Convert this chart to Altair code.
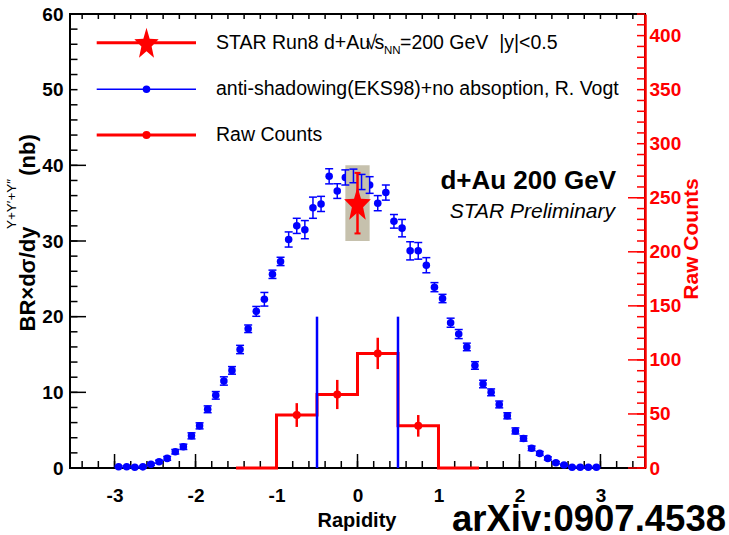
import math
import altair as alt
import pandas as pd

FONT = "Liberation Sans"
W, H = 575, 454

# ---- data -------------------------------------------------------------
# Model: anti-shadowing (EKS98) + no absorption, R. Vogt
model_rap = [-2.95, -2.85, -2.75, -2.65, -2.55, -2.45, -2.35, -2.25, -2.15, -2.05,
             -1.95, -1.85, -1.75, -1.65, -1.55, -1.45, -1.35, -1.25, -1.15, -1.05,
             -0.95, -0.85, -0.75, -0.65, -0.55, -0.45, -0.35, -0.25, -0.15, -0.05,
             0.05, 0.15, 0.25, 0.35, 0.45, 0.55, 0.65, 0.75, 0.85, 0.95,
             1.05, 1.15, 1.25, 1.35, 1.45, 1.55, 1.65, 1.75, 1.85, 1.95,
             2.05, 2.15, 2.25, 2.35, 2.45, 2.55, 2.65, 2.75, 2.85, 2.95]
model_val = [0.17, 0.17, 0.10, 0.15, 0.50, 0.83, 1.27, 2.15, 2.80, 4.25,
             5.57, 7.76, 9.60, 11.5, 12.9, 15.66, 18.4, 20.7, 22.3, 25.6,
             27.3, 30.2, 32.0, 31.5, 34.4, 34.9, 38.55, 36.6, 38.4, 38.6,
             37.8, 37.4, 35.0, 36.4, 32.6, 31.7, 28.7, 28.7, 26.8, 23.9,
             22.4, 19.2, 17.7, 16.0, 13.55, 11.1, 10.0, 8.4, 6.9, 4.9,
             3.9, 2.6, 1.93, 1.27, 0.70, 0.40, 0.10, 0.10, 0.10, 0.10]
model_err = [0.10, 0.10, 0.10, 0.10, 0.15, 0.20, 0.25, 0.30, 0.35, 0.40,
             0.40, 0.45, 0.50, 0.55, 0.50, 0.55, 0.50, 0.65, 0.90, 0.55,
             0.55, 1.00, 1.00, 1.20, 1.40, 1.00, 1.00, 0.97, 1.00, 0.90,
             1.00, 1.10, 1.00, 1.00, 0.90, 1.15, 1.20, 1.10, 1.00, 0.60,
             0.55, 0.60, 0.60, 0.50, 0.50, 0.50, 0.45, 0.45, 0.40, 0.40,
             0.35, 0.30, 0.25, 0.20, 0.15, 0.10, 0.10, 0.10, 0.10, 0.10]

# Raw counts histogram (right axis)
hist_edges = [-1.5, -1.0, -0.5, 0.0, 0.5, 1.0, 1.5]
hist_counts = [0, 49, 68, 106, 39, 0]
raw_rap = [-0.75, -0.25, 0.25, 0.75]
raw_counts = [49, 68, 106, 39]
raw_err = [11, 13.5, 14.5, 10]

# STAR Run8 d+Au measurement, |y|<0.5
star_rap = [0.0]
star_val = [35.0]
star_stat = [4.0]
star_sys = [5.0]
star_sys_halfwidth = 0.15

# Acceptance boundaries drawn as vertical lines
acc_rap = [-0.5, 0.5]
acc_top = [20.0, 20.0]

# Axis ranges and labels
X_RANGE = [-3.55, 3.55]
Y_RANGE = [0, 60]
C_RANGE = [0, 420]
x_major = [-3, -2, -1, 0, 1, 2, 3]
x_minor = [round(-3.4 + 0.2 * k, 1) for k in range(35)]
y_labels = [0, 10, 20, 30, 40, 50, 60]
y_long = [0, 10, 20, 30, 40]
y_short = list(range(0, 61, 2))
c_labels = list(range(0, 401, 50))
c_long = [0, 50, 100, 150, 200, 250]
c_short = list(range(0, 421, 10))

# ---- tables -------------------------------------------------------------
model = pd.DataFrame({"rap": model_rap, "v": model_val})
model["lo"] = model["v"] - pd.Series(model_err)
model["hi"] = model["v"] + pd.Series(model_err)

hist = pd.DataFrame({"edge": hist_edges, "count": hist_counts + [hist_counts[-1]]})
raw = pd.DataFrame({"rap": raw_rap, "c": raw_counts})
raw["lo"] = raw["c"] - pd.Series(raw_err)
raw["hi"] = raw["c"] + pd.Series(raw_err)

star = pd.DataFrame({"rap": star_rap, "v": star_val})
star["lo"] = star["v"] - pd.Series(star_stat)
star["hi"] = star["v"] + pd.Series(star_stat)
star["slo"] = star["v"] - pd.Series(star_sys)
star["shi"] = star["v"] + pd.Series(star_sys)
star["x1"] = star["rap"] - star_sys_halfwidth
star["x2"] = star["rap"] + star_sys_halfwidth

acc = pd.DataFrame({"rap": acc_rap, "top": acc_top, "zero": [0.0, 0.0]})
one = pd.DataFrame({"k": [0]})

# ---- scales & axes ----------------------------------------------------
xs = alt.Scale(domain=X_RANGE, nice=False, zero=False)
ys = alt.Scale(domain=Y_RANGE, nice=False, zero=False)
cs = alt.Scale(domain=C_RANGE, nice=False, zero=False)

BLUE = "#0000ff"
RED = "#ff0000"


def label_axis(orient, values, pad, color="black", **kw):
    return alt.Axis(orient=orient, values=values, ticks=False, labelPadding=pad,
                    labelFont=FONT, labelFontSize=19, labelFontWeight="bold",
                    labelColor=color, labelFlush=False, labelOverlap=False,
                    grid=False, title=None, **kw)


AX_LAB = label_axis("bottom", x_major, 18, domain=False,
                    labelExpr="datum.value < 0 ? '-' + format(-datum.value, 'd') : format(datum.value, 'd')")
AY_LAB = label_axis("left", y_labels, 7, domain=False)
AC_LAB = label_axis("right", c_labels, 4, color="red", domain=True,
                    domainColor="red", domainWidth=2.5)

# Frame ticks pointing into the plot: each tick is a one-segment line symbol
# anchored on the frame edge; a path from 0 to 1 spans sqrt(size)/2 pixels.
UP, DOWN, RIGHT, LEFT = "M0,0L0,-1", "M0,0L0,1", "M0,0L1,0", "M0,0L-1,0"


def tick_size(px):
    return 4 * px * px


def x_edge_ticks(values, edge, path, px, color="black"):
    df = pd.DataFrame({"pos": [float(v) for v in values]})
    df["edge"] = float(edge)
    return alt.Chart(df).mark_point(shape=path, filled=False, color=color, strokeWidth=1.5,
                                    size=tick_size(px), opacity=1).encode(
        x=alt.X("pos:Q", scale=xs, axis=None),
        y=alt.Y("edge:Q", scale=ys, axis=None))


def y_edge_ticks(values, scale, edge, path, px, color="black"):
    df = pd.DataFrame({"pos": [float(v) for v in values]})
    df["edge"] = float(edge)
    return alt.Chart(df).mark_point(shape=path, filled=False, color=color, strokeWidth=1.5,
                                    size=tick_size(px), opacity=1).encode(
        y=alt.Y("pos:Q", scale=scale, axis=None),
        x=alt.X("edge:Q", scale=xs, axis=None))


frame_ticks = [
    x_edge_ticks(x_major, Y_RANGE[0], UP, 14), x_edge_ticks(x_minor, Y_RANGE[0], UP, 7),
    x_edge_ticks(x_minor, Y_RANGE[1], DOWN, 5),
    y_edge_ticks(y_long, ys, X_RANGE[0], RIGHT, 16), y_edge_ticks(y_short, ys, X_RANGE[0], RIGHT, 7.5),
    y_edge_ticks(c_long, cs, X_RANGE[1], LEFT, 17, RED), y_edge_ticks(c_short, cs, X_RANGE[1], LEFT, 8, RED),
]


def star_path(sx=0.77, inner=0.42):
    pts = []
    for k in range(10):
        a = math.radians(-90 + 36 * k)
        r = 1.0 if k % 2 == 0 else inner
        pts.append((r * math.cos(a) * sx, r * math.sin(a) + 0.095))
    return "M" + " L".join(f"{x:.3f},{y:.3f}" for x, y in pts) + " Z"


STAR = star_path()

# ---- layers -----------------------------------------------------------
model_dots = alt.Chart(model).mark_circle(color=BLUE, size=57, opacity=1).encode(
    x=alt.X("rap:Q", scale=xs, axis=None),
    y=alt.Y("v:Q", scale=ys, axis=None))

sys_box = alt.Chart(star).mark_rect(color="#c6c1ad").encode(
    x=alt.X("x1:Q", scale=xs, axis=None), x2="x2:Q",
    y=alt.Y("slo:Q", scale=ys, axis=None), y2="shi:Q")

model_err_bars = alt.Chart(model).mark_rule(color=BLUE, strokeWidth=1.5).encode(
    x=alt.X("rap:Q", scale=xs, axis=AX_LAB),
    y=alt.Y("lo:Q", scale=ys, axis=AY_LAB), y2="hi:Q")

model_cap_hi = alt.Chart(model).mark_rule(color=BLUE, strokeWidth=1.5, xOffset=-4, x2Offset=4).encode(
    x=alt.X("rap:Q", scale=xs, axis=None), x2="rap:Q",
    y=alt.Y("hi:Q", scale=ys, axis=None))

model_cap_lo = alt.Chart(model).mark_rule(color=BLUE, strokeWidth=1.5, xOffset=-4, x2Offset=4).encode(
    x=alt.X("rap:Q", scale=xs, axis=None), x2="rap:Q",
    y=alt.Y("lo:Q", scale=ys, axis=None))

hist_line = alt.Chart(hist).mark_line(color=RED, strokeWidth=3, interpolate="step-after").encode(
    x=alt.X("edge:Q", scale=xs, axis=None),
    y=alt.Y("count:Q", scale=cs, axis=AC_LAB))

acc_lines = alt.Chart(acc).mark_rule(color=BLUE, strokeWidth=2.5).encode(
    x=alt.X("rap:Q", scale=xs, axis=None),
    y=alt.Y("zero:Q", scale=ys, axis=None), y2="top:Q")

raw_err_bars = alt.Chart(raw).mark_rule(color=RED, strokeWidth=2.5).encode(
    x=alt.X("rap:Q", scale=xs, axis=None),
    y=alt.Y("lo:Q", scale=cs, axis=None), y2="hi:Q")

raw_dots = alt.Chart(raw).mark_circle(color=RED, size=64, opacity=1).encode(
    x=alt.X("rap:Q", scale=xs, axis=None),
    y=alt.Y("c:Q", scale=cs, axis=None))

star_err = alt.Chart(star).mark_rule(color=RED, strokeWidth=2.5).encode(
    x=alt.X("rap:Q", scale=xs, axis=None),
    y=alt.Y("lo:Q", scale=ys, axis=None), y2="hi:Q")

star_cap_hi = alt.Chart(star).mark_rule(color=RED, strokeWidth=2, xOffset=-3, x2Offset=3).encode(
    x=alt.X("rap:Q", scale=xs, axis=None), x2="rap:Q",
    y=alt.Y("hi:Q", scale=ys, axis=None))

star_cap_lo = alt.Chart(star).mark_rule(color=RED, strokeWidth=2, xOffset=-3, x2Offset=3).encode(
    x=alt.X("rap:Q", scale=xs, axis=None), x2="rap:Q",
    y=alt.Y("lo:Q", scale=ys, axis=None))

star_pt = alt.Chart(star).mark_point(shape=STAR, filled=True, color=RED, size=1330, opacity=1).encode(
    x=alt.X("rap:Q", scale=xs, axis=None),
    y=alt.Y("v:Q", scale=ys, axis=None))


def txt(s, x, y, size=19.5, weight="normal", style="normal", align="left", color="black", angle=0):
    kw = dict(font=FONT, fontSize=size, fontWeight=weight, fontStyle=style,
              align=align, baseline="middle", color=color)
    if angle:
        kw["angle"] = angle
    return alt.Chart(one).mark_text(**kw).encode(
        x=alt.value(x), y=alt.value(y), text=alt.value(s))


def leg_line(y, color, width):
    return alt.Chart(one).mark_rule(color=color, strokeWidth=width).encode(
        x=alt.value(26.7), x2=alt.value(126), y=alt.value(y))


def leg_mark(y, **mk):
    return alt.Chart(one).mark_point(filled=True, opacity=1, **mk).encode(
        x=alt.value(76.5), y=alt.value(y))


legend = [
    leg_line(28.7, RED, 3), leg_mark(28.7, shape=STAR, color=RED, size=1100),
    leg_line(75.3, BLUE, 1.5), leg_mark(75.3, shape="circle", color=BLUE, size=57),
    leg_line(121, RED, 3), leg_mark(121, shape="circle", color=RED, size=64),
    txt("STAR Run8 d+Au", 146, 28.7),
    txt("√", 296, 28.7),
    txt("s", 304.5, 28.7),
    txt("NN", 314, 37, size=11.5),
    txt("=200 GeV\u00a0 |y|<0.5", 330, 28.7),
    txt("anti-shadowing(EKS98)+no absoption, R. Vogt", 146, 75.3),
    txt("Raw Counts", 146, 121),
]

labels = [
    txt("d+Au 200 GeV", 546, 167, size=26, weight="bold", align="right"),
    txt("STAR Preliminary", 545, 198, size=21, style="italic", align="right"),
    txt("Rapidity", 287, 507, size=20, weight="bold", align="center"),
    txt("Raw Counts", 622, 225, size=21, weight="bold", align="center", color=RED, angle=270),
    txt("BR×dσ/dy", -42, 265, size=22, weight="bold", align="center", angle=270),
    txt("Υ+Υ′+Υ″", -58, 190, size=13.5, align="center", angle=270),
    txt("(nb)", -42, 141, size=22, weight="bold", align="center", angle=270),
    txt("arXiv:0907.4538", 656, 506, size=36.5, weight="bold", align="right"),
]

chart = alt.layer(
    *frame_ticks,
    model_dots, sys_box, model_err_bars, model_cap_hi, model_cap_lo,
    hist_line, acc_lines, raw_err_bars, raw_dots,
    star_err, star_cap_hi, star_cap_lo, star_pt,
    *legend, *labels,
).properties(
    width=W, height=H,
    padding={"left": 70, "top": 14, "right": 84, "bottom": 67},
    autosize=alt.AutoSizeParams(type="none"),
).resolve_scale(
    y="independent"
).resolve_axis(
    x="independent", y="independent"
).configure_view(
    stroke="black", strokeWidth=2
)

chart.save("out.html", embed_options={"renderer": "svg", "actions": False})
